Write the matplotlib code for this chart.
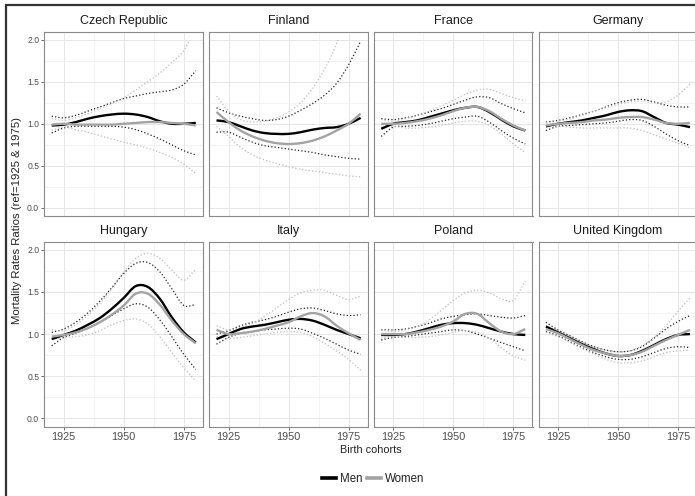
import matplotlib
matplotlib.use("Agg")
import numpy as np
import matplotlib.pyplot as plt
from matplotlib.patches import Rectangle, PathPatch
from matplotlib.path import Path
from matplotlib.lines import Line2D

plt.rcParams['font.family'] = ['Liberation Sans', 'DejaVu Sans']

# Birth cohorts (5-year steps)
cohorts = [1920, 1925, 1930, 1935, 1940, 1945, 1950, 1955, 1960, 1965, 1970, 1975, 1980]

countries = ["Czech Republic", "Finland", "France", "Germany",
             "Hungary", "Italy", "Poland", "United Kingdom"]

# Mortality rate ratios (ref = 1925 & 1975) with lower / upper bounds
cz_men      = [0.98, 0.99, 1.02, 1.06, 1.09, 1.11, 1.12, 1.11, 1.08, 1.03, 1.00, 1.00, 1.01]
cz_men_lo   = [0.89, 0.95, 0.97, 0.97, 0.97, 0.97, 0.96, 0.93, 0.88, 0.82, 0.75, 0.68, 0.63]
cz_men_hi   = [1.09, 1.07, 1.10, 1.15, 1.20, 1.25, 1.30, 1.33, 1.36, 1.38, 1.40, 1.47, 1.63]
cz_women    = [0.99, 1.00, 0.99, 0.99, 0.99, 0.99, 1.00, 1.01, 1.02, 1.02, 1.01, 1.00, 0.98]
cz_women_lo = [0.92, 0.96, 0.93, 0.90, 0.86, 0.82, 0.78, 0.75, 0.71, 0.66, 0.60, 0.52, 0.41]
cz_women_hi = [1.06, 1.04, 1.07, 1.12, 1.18, 1.24, 1.31, 1.40, 1.50, 1.60, 1.73, 1.87, 2.15]

fi_men      = [1.04, 1.02, 0.97, 0.92, 0.89, 0.88, 0.88, 0.90, 0.93, 0.95, 0.96, 1.00, 1.07]
fi_men_lo   = [0.90, 0.90, 0.84, 0.78, 0.74, 0.72, 0.70, 0.68, 0.66, 0.63, 0.61, 0.59, 0.58]
fi_men_hi   = [1.19, 1.13, 1.09, 1.06, 1.04, 1.05, 1.09, 1.16, 1.24, 1.34, 1.48, 1.70, 1.98]
fi_women    = [1.14, 1.02, 0.92, 0.85, 0.80, 0.77, 0.76, 0.77, 0.80, 0.85, 0.92, 1.00, 1.12]
fi_women_lo = [0.97, 0.85, 0.72, 0.63, 0.57, 0.53, 0.49, 0.46, 0.44, 0.42, 0.40, 0.38, 0.37]
fi_women_hi = [1.33, 1.15, 1.05, 1.02, 1.03, 1.07, 1.14, 1.25, 1.42, 1.65, 1.95, 2.40, 2.90]

fr_men      = [0.94, 1.00, 1.02, 1.04, 1.08, 1.12, 1.16, 1.19, 1.20, 1.14, 1.05, 0.97, 0.92]
fr_men_lo   = [0.85, 0.96, 0.97, 0.98, 1.00, 1.03, 1.06, 1.08, 1.09, 1.02, 0.92, 0.83, 0.76]
fr_men_hi   = [1.06, 1.05, 1.07, 1.10, 1.14, 1.18, 1.23, 1.28, 1.32, 1.31, 1.24, 1.18, 1.13]
fr_women    = [1.00, 1.00, 1.01, 1.03, 1.06, 1.10, 1.15, 1.19, 1.20, 1.15, 1.06, 0.98, 0.92]
fr_women_lo = [0.96, 0.97, 0.95, 0.95, 0.96, 0.98, 1.01, 1.03, 1.03, 0.98, 0.88, 0.76, 0.66]
fr_women_hi = [1.05, 1.03, 1.06, 1.10, 1.15, 1.21, 1.28, 1.35, 1.40, 1.41, 1.36, 1.31, 1.27]

de_men      = [0.97, 1.00, 1.02, 1.04, 1.07, 1.10, 1.14, 1.16, 1.15, 1.08, 1.01, 0.99, 0.96]
de_men_lo   = [0.92, 0.97, 0.98, 0.99, 1.00, 1.01, 1.03, 1.05, 1.04, 0.97, 0.88, 0.80, 0.74]
de_men_hi   = [1.02, 1.04, 1.07, 1.11, 1.15, 1.20, 1.25, 1.28, 1.29, 1.26, 1.22, 1.20, 1.20]
de_women    = [0.98, 1.00, 1.01, 1.02, 1.04, 1.05, 1.07, 1.08, 1.08, 1.05, 1.01, 1.00, 1.01]
de_women_lo = [0.96, 0.97, 0.96, 0.95, 0.95, 0.95, 0.95, 0.95, 0.92, 0.87, 0.82, 0.77, 0.71]
de_women_hi = [1.01, 1.03, 1.06, 1.10, 1.15, 1.19, 1.23, 1.26, 1.27, 1.25, 1.26, 1.34, 1.47]

hu_men      = [0.94, 0.99, 1.04, 1.11, 1.19, 1.30, 1.43, 1.57, 1.56, 1.42, 1.20, 1.02, 0.90]
hu_men_lo   = [0.86, 0.96, 1.01, 1.07, 1.14, 1.22, 1.30, 1.36, 1.32, 1.17, 0.97, 0.76, 0.58]
hu_men_hi   = [1.02, 1.06, 1.14, 1.25, 1.39, 1.55, 1.72, 1.84, 1.85, 1.74, 1.54, 1.34, 1.35]
hu_women    = [0.97, 0.99, 1.02, 1.07, 1.14, 1.23, 1.34, 1.48, 1.48, 1.35, 1.16, 1.00, 0.89]
hu_women_lo = [0.94, 0.96, 0.97, 0.99, 1.04, 1.11, 1.16, 1.18, 1.12, 0.97, 0.78, 0.60, 0.44]
hu_women_hi = [1.05, 1.04, 1.11, 1.22, 1.36, 1.54, 1.74, 1.90, 1.96, 1.90, 1.76, 1.64, 1.77]

it_men      = [0.94, 1.00, 1.06, 1.09, 1.11, 1.14, 1.17, 1.18, 1.16, 1.11, 1.05, 1.00, 0.95]
it_men_lo   = [0.88, 0.96, 1.01, 1.03, 1.05, 1.06, 1.07, 1.06, 1.01, 0.95, 0.88, 0.81, 0.76]
it_men_hi   = [1.00, 1.04, 1.10, 1.14, 1.17, 1.21, 1.26, 1.30, 1.31, 1.28, 1.24, 1.22, 1.23]
it_women    = [1.05, 1.00, 1.01, 1.03, 1.06, 1.10, 1.14, 1.21, 1.25, 1.21, 1.10, 1.01, 0.93]
it_women_lo = [0.97, 0.95, 0.96, 0.98, 1.00, 1.02, 1.03, 1.02, 0.97, 0.89, 0.80, 0.70, 0.57]
it_women_hi = [1.10, 1.05, 1.08, 1.13, 1.21, 1.31, 1.41, 1.49, 1.52, 1.52, 1.46, 1.41, 1.45]

pl_men      = [0.99, 0.99, 1.00, 1.03, 1.07, 1.11, 1.13, 1.13, 1.11, 1.07, 1.03, 1.00, 0.99]
pl_men_lo   = [0.93, 0.96, 0.97, 0.99, 1.01, 1.03, 1.05, 1.04, 1.00, 0.95, 0.90, 0.85, 0.80]
pl_men_hi   = [1.05, 1.05, 1.06, 1.09, 1.13, 1.18, 1.21, 1.23, 1.24, 1.22, 1.20, 1.19, 1.22]
pl_women    = [1.00, 1.00, 1.00, 1.02, 1.05, 1.09, 1.15, 1.24, 1.24, 1.13, 1.03, 1.00, 1.06]
pl_women_lo = [0.95, 0.97, 0.96, 0.96, 0.97, 0.99, 1.02, 1.04, 1.02, 0.95, 0.84, 0.74, 0.69]
pl_women_hi = [1.05, 1.03, 1.05, 1.09, 1.17, 1.28, 1.40, 1.49, 1.52, 1.49, 1.42, 1.40, 1.63]

uk_men      = [1.09, 1.02, 0.95, 0.88, 0.82, 0.77, 0.74, 0.75, 0.80, 0.87, 0.94, 0.99, 1.00]
uk_men_lo   = [1.03, 0.98, 0.91, 0.84, 0.78, 0.73, 0.70, 0.70, 0.73, 0.78, 0.83, 0.85, 0.84]
uk_men_hi   = [1.14, 1.05, 0.98, 0.91, 0.85, 0.81, 0.79, 0.80, 0.85, 0.95, 1.06, 1.15, 1.22]
uk_women    = [1.06, 1.01, 0.94, 0.87, 0.81, 0.77, 0.74, 0.75, 0.79, 0.86, 0.93, 0.99, 1.05]
uk_women_lo = [1.02, 0.97, 0.90, 0.83, 0.76, 0.70, 0.66, 0.66, 0.68, 0.73, 0.78, 0.80, 0.81]
uk_women_hi = [1.10, 1.04, 0.97, 0.90, 0.85, 0.81, 0.79, 0.80, 0.86, 0.96, 1.10, 1.27, 1.43]

panels = [
    (cz_men, cz_men_lo, cz_men_hi, cz_women, cz_women_lo, cz_women_hi),
    (fi_men, fi_men_lo, fi_men_hi, fi_women, fi_women_lo, fi_women_hi),
    (fr_men, fr_men_lo, fr_men_hi, fr_women, fr_women_lo, fr_women_hi),
    (de_men, de_men_lo, de_men_hi, de_women, de_women_lo, de_women_hi),
    (hu_men, hu_men_lo, hu_men_hi, hu_women, hu_women_lo, hu_women_hi),
    (it_men, it_men_lo, it_men_hi, it_women, it_women_lo, it_women_hi),
    (pl_men, pl_men_lo, pl_men_hi, pl_women, pl_women_lo, pl_women_hi),
    (uk_men, uk_men_lo, uk_men_hi, uk_women, uk_women_lo, uk_women_hi),
]


def smooth_path(x, y):
    """Curve through every point (Catmull-Rom tangents as cubic Bezier segments)."""
    x = np.asarray(x, float)
    y = np.asarray(y, float)
    n = len(x)
    tx = np.gradient(x)
    ty = np.gradient(y)
    verts = [(x[0], y[0])]
    codes = [Path.MOVETO]
    for k in range(n - 1):
        verts += [(x[k] + tx[k] / 3, y[k] + ty[k] / 3),
                  (x[k + 1] - tx[k + 1] / 3, y[k + 1] - ty[k + 1] / 3),
                  (x[k + 1], y[k + 1])]
        codes += [Path.CURVE4] * 3
    return Path(verts, codes)


def draw_curve(ax, x, y, clip, **kw):
    patch = PathPatch(smooth_path(x, y), fill=False, transform=ax.transData, **kw)
    ax.add_patch(patch)
    patch.set_clip_path(clip)
    return patch


W, H = 695, 496
fig = plt.figure(figsize=(W / 100, H / 100), dpi=100)

# outer frame (runs past the right/bottom edge)
fig.add_artist(Rectangle((6 / W, -0.2), 2.0, 1.2 - 5 / H, transform=fig.transFigure,
                         fill=False, edgecolor='#333333', linewidth=1.6, clip_on=False))

col_left = [44.5, 209.3, 374.0, 538.7]
row_top = [32.0, 242.3]
pw, ph = 158.5, 184.4

men_col, women_col = 'black', '#a3a3a3'
men_ci, women_ci = '#222222', '#bdbdbd'
dots = (0, (1, 1.7))

for i, name in enumerate(countries):
    r, c = divmod(i, 4)
    ax = fig.add_axes([col_left[c] / W, 1 - (row_top[r] + ph) / H, pw / W, ph / H])
    men, men_lo, men_hi, women, women_lo, women_hi = panels[i]

    ax.set_xlim(1917.0, 1983.0)
    ax.set_ylim(-0.1, 2.09)

    # values above the scale limit are dropped
    clip = Rectangle((1900, -1), 100, 3.0, transform=ax.transData)
    draw_curve(ax, cohorts, men_lo, clip, edgecolor=men_ci, lw=0.9, linestyle=dots)
    draw_curve(ax, cohorts, men_hi, clip, edgecolor=men_ci, lw=0.9, linestyle=dots)
    draw_curve(ax, cohorts, women_lo, clip, edgecolor=women_ci, lw=0.9, linestyle=dots)
    draw_curve(ax, cohorts, women_hi, clip, edgecolor=women_ci, lw=0.9, linestyle=dots)
    draw_curve(ax, cohorts, men, clip, edgecolor=men_col, lw=1.7, capstyle='butt')
    draw_curve(ax, cohorts, women, clip, edgecolor=women_col, lw=1.7, capstyle='butt')

    ax.set_xticks([1925, 1950, 1975])
    ax.set_xticks([1937.5, 1962.5], minor=True)
    ax.set_yticks([0.0, 0.5, 1.0, 1.5, 2.0])
    ax.set_yticks([0.25, 0.75, 1.25, 1.75], minor=True)
    ax.grid(True, which='major', color='#e6e6e6', lw=0.7)
    ax.grid(True, which='minor', color='#efefef', lw=0.5)
    ax.set_axisbelow(True)
    for sp in ax.spines.values():
        sp.set_color('#8a8a8a')
        sp.set_linewidth(0.8)

    ax.tick_params(which='minor', length=0)
    ax.tick_params(which='major', length=2.3, width=0.6, color='#555555')
    ax.tick_params(axis='x', labelsize=7.8, labelcolor='#4d4d4d', pad=1.5,
                   labelbottom=(r == 1), bottom=(r == 1))
    ax.tick_params(axis='y', labelsize=6.2, labelcolor='#4d4d4d', pad=1.5,
                   labelleft=(c == 0), left=(c == 0))
    ax.yaxis.set_major_formatter(plt.FormatStrFormatter('%.1f'))

    ax.text(0.5, 1 + 11 / ph, name, transform=ax.transAxes, ha='center', va='center',
            fontsize=9, color='#1a1a1a')

fig.text(17 / W, 1 - 221 / H, "Mortality Rates Ratios (ref=1925 & 1975)", rotation=90,
         ha='center', va='center', fontsize=8.2, color='#222222')
fig.text(371 / W, 1 - 450 / H, "Birth cohorts", ha='center', va='center',
         fontsize=7.8, color='#222222')

handles = [Line2D([], [], color=men_col, lw=2.6), Line2D([], [], color=women_col, lw=2.6)]
fig.legend(handles, ["Men", "Women"], loc='center', bbox_to_anchor=(373 / W, 1 - 479 / H),
           ncol=2, frameon=False, fontsize=8.3, handlelength=1.2, handletextpad=0.35,
           columnspacing=0.4, labelcolor='#222222')

fig.savefig("out.png", dpi=100)
